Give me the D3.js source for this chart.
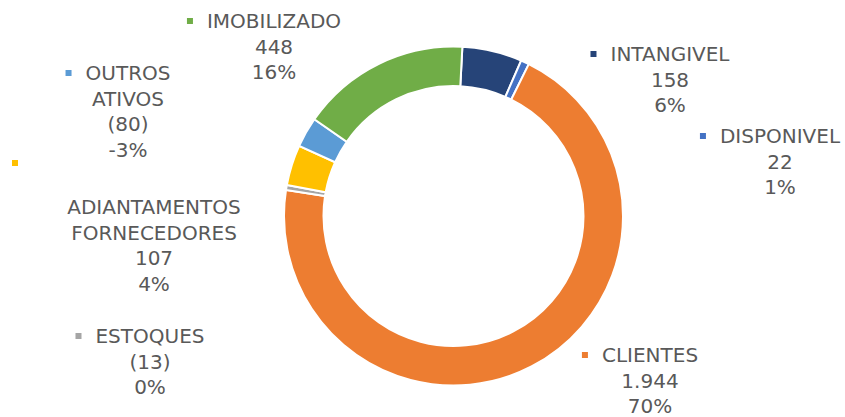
<!DOCTYPE html>
<html>
<head>
<meta charset="utf-8">
<script src="https://cdn.jsdelivr.net/npm/d3@7"></script>
<style>
  body { margin: 0; background: #fff; }
  svg { display: block; }
</style>
</head>
<body>
<div id="chart"></div>
<script>
// data, clockwise from the top of the ring
var categories = ['INTANGIVEL', 'DISPONIVEL', 'CLIENTES', 'ESTOQUES', 'ADIANTAMENTOS FORNECEDORES', 'OUTROS ATIVOS', 'IMOBILIZADO']
var values = [158, 22, 1944, -13, 107, -80, 448]
var colors = ['#264478', '#4472C4', '#ED7D31', '#A5A5A5', '#FFC000', '#5B9BD5', '#70AD47']

// how each label wraps, and where its block sits (text centre x, first baseline y)
var labelLines = [['INTANGIVEL'], ['DISPONIVEL'], ['CLIENTES'], ['ESTOQUES'], ['', '', 'ADIANTAMENTOS', 'FORNECEDORES'], ['OUTROS', 'ATIVOS'], ['IMOBILIZADO']]
var labelPos = [[670, 61], [780, 143], [650, 362], [150, 343], [154, 163], [128, 80], [274, 28]]

var width = 845
var height = 417
var cx = 453.5
var cy = 216
var outerR = 169.5
var innerR = 130
var lineH = 25.6

var svg = d3.select('#chart')
  .append('svg')
  .attr('width', width)
  .attr('height', height)

var total = d3.sum(values, d => Math.abs(d))

var pie = d3.pie()
  .value(d => Math.abs(d))
  .sort(null)
  .startAngle(3 * Math.PI / 180)
  .endAngle(2 * Math.PI + 3 * Math.PI / 180)

var arc = d3.arc()
  .innerRadius(innerR)
  .outerRadius(outerR)

var g = svg.append('g')
  .attr('transform', 'translate(' + cx + ',' + cy + ')')

g.selectAll('path')
  .data(pie(values))
  .enter()
  .append('path')
  .attr('d', arc)
  .attr('fill', (d, i) => colors[i])
  .attr('stroke', '#fff')
  .attr('stroke-width', 2)

var fmt = d3.formatLocale({ decimal: ',', thousands: '.', grouping: [3], currency: ['', ''] }).format(',d')

function valueText(v) {
  return v < 0 ? '(' + fmt(-v) + ')' : fmt(v)
}

categories.forEach(function(c, i) {
  var lines = labelLines[i].concat([valueText(values[i]), Math.round(values[i] / total * 100) + '%'])
  var x = labelPos[i][0]
  var y = labelPos[i][1]
  var lab = svg.append('g').attr('class', 'label')

  var texts = lab.selectAll('text')
    .data(lines)
    .enter()
    .append('text')
    .attr('x', x)
    .attr('y', (d, j) => y + j * lineH)
    .attr('text-anchor', 'middle')
    .attr('font-family', 'DejaVu Sans, sans-serif')
    .attr('font-size', 20)
    .attr('fill', '#595959')
    .text(d => d)

  // legend key sits left of the first line (alone on it when the label wraps early)
  var w = texts.node().getComputedTextLength()
  var alone = lines[0] === ''
  lab.append('rect')
    .attr('x', alone ? 12 : x - w / 2 - 20)
    .attr('y', alone ? y - 3 : y - 10)
    .attr('width', 6)
    .attr('height', 6)
    .attr('fill', colors[i])
})
</script>
</body>
</html>
